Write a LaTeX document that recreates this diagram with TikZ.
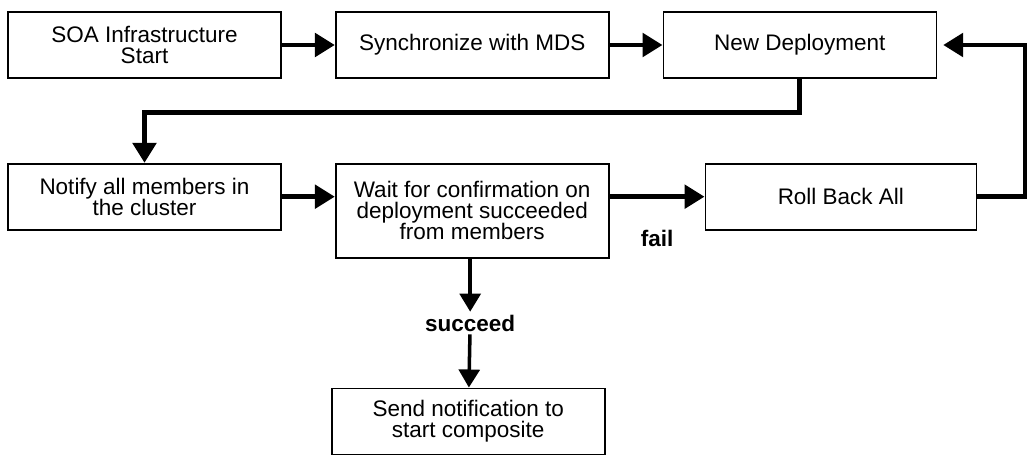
\documentclass[tikz,border=0pt]{standalone}
\usepackage{fontspec}
\setmainfont{Liberation Sans}
\usetikzlibrary{arrows.meta,positioning,calc}

\begin{document}
\begin{tikzpicture}[
node distance=2.1cm and 1.325cm,
box/.style={rectangle, draw, line width=1.2pt, minimum width=6.825cm, minimum height=1.65cm, inner sep=0pt, align=center, font=\fontsize{16}{15}\selectfont},
arrow/.style={-{Triangle[length=0.5cm, width=0.58cm]}, line width=3.5pt},
thinarrow/.style={-{Triangle[length=0.45cm, width=0.52cm]}, line width=2.5pt},
lbl/.style={font=\bfseries\fontsize{16}{15}\selectfont, inner sep=2pt}
]
\useasboundingbox (0,0) rectangle (25.675,-11.65);

% Top row
\node[box] (soa) at (3.6125,-1.125) {SOA Infrastructure\\Start};
\node[box, right=of soa] (sync) {Synchronize with MDS};
\node[box, right=of sync] (deploy) {New Deployment};

% Middle row
\node[box, below=of soa] (notify) {Notify all members in\\the cluster};
\node[box, minimum height=2.35cm, right=1.325cm of notify.north east, anchor=north west] (wait) {Wait for confirmation on\\deployment succeeded\\from members};
\node[box, minimum width=6.775cm, right=2.375cm of wait.north east, anchor=north west] (rollback) {Roll Back All};

% Bottom
\node[box, below=3.225cm of wait, xshift=-0.1cm] (send) {Send notification to\\start composite};
\node[lbl] (succeed) at ($(wait.south)!0.5!(send.north)$) {succeed};

% Arrows
\draw[arrow] (soa) -- (sync);
\draw[arrow] (sync) -- (deploy);
\draw[arrow] (deploy.south) -- ++(0,-0.85) -| (notify.north);
\draw[arrow] (notify.east) -- (notify.east -| wait.west);
\draw[arrow] (wait.east |- rollback.west) -- node[lbl, below=0.7cm] {fail} (rollback.west);
\draw[arrow] (rollback.east) -- ++(1.2,0) |- ($(deploy.east)+(0.15,0)$);
\draw[thinarrow] (wait.south -| succeed) -- (succeed);
\draw[thinarrow] (succeed) -- (send);

\end{tikzpicture}
\end{document}
